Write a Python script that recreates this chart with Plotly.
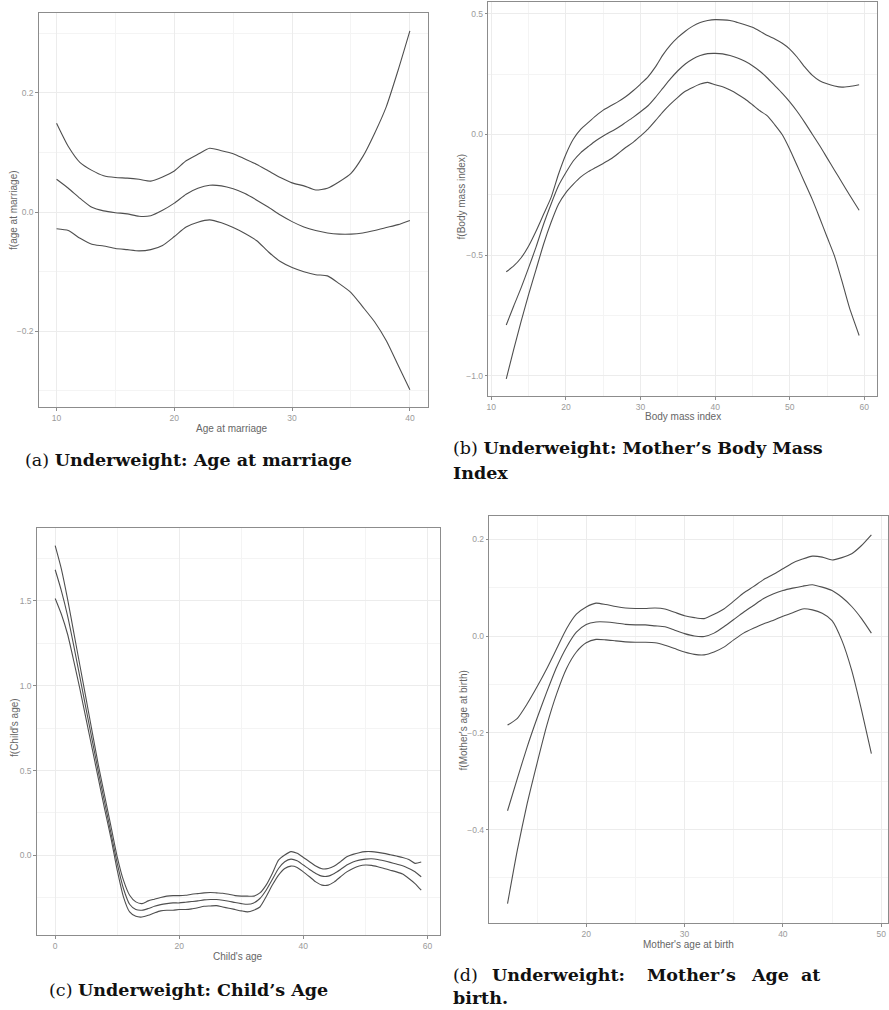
import plotly.graph_objects as go

W, H = 889, 1010

# ---------------- data ----------------
# (a) Age at marriage
a_x = list(range(10, 41))
a_up = [0.149, 0.110, 0.083, 0.070, 0.061, 0.058, 0.057, 0.055, 0.052, 0.059, 0.069,
        0.086, 0.097, 0.107, 0.103, 0.098, 0.089, 0.080, 0.069, 0.058, 0.049, 0.044,
        0.037, 0.040, 0.051, 0.065, 0.093, 0.132, 0.177, 0.238, 0.304]
a_mid = [0.055, 0.040, 0.023, 0.008, 0.002, -0.001, -0.003, -0.007, -0.006, 0.003, 0.015,
         0.030, 0.040, 0.045, 0.044, 0.039, 0.031, 0.020, 0.008, -0.005, -0.016, -0.025,
         -0.031, -0.035, -0.037, -0.037, -0.035, -0.031, -0.026, -0.021, -0.014]
a_lo = [-0.028, -0.031, -0.044, -0.054, -0.057, -0.061, -0.063, -0.065, -0.063, -0.056, -0.041,
        -0.025, -0.017, -0.013, -0.018, -0.026, -0.036, -0.048, -0.067, -0.083, -0.093, -0.100,
        -0.105, -0.107, -0.120, -0.135, -0.159, -0.184, -0.216, -0.257, -0.298]

# (b) Body mass index
b_x = list(range(12, 59)) + [59.3]
b_up = [-0.569, -0.545, -0.511, -0.462, -0.400, -0.331, -0.262, -0.165, -0.082, -0.019, 0.022,
        0.050, 0.077, 0.101, 0.119, 0.136, 0.156, 0.181, 0.209, 0.239, 0.280, 0.330, 0.370,
        0.402, 0.428, 0.449, 0.464, 0.472, 0.476, 0.475, 0.472, 0.464, 0.455, 0.444, 0.428,
        0.410, 0.396, 0.378, 0.354, 0.320, 0.280, 0.246, 0.223, 0.210, 0.201, 0.196, 0.199, 0.206]
b_mid = [-0.790, -0.711, -0.635, -0.552, -0.466, -0.372, -0.289, -0.213, -0.158, -0.109, -0.075,
         -0.050, -0.026, -0.006, 0.011, 0.029, 0.050, 0.071, 0.094, 0.119, 0.154, 0.192, 0.230,
         0.264, 0.292, 0.313, 0.327, 0.335, 0.336, 0.334, 0.327, 0.317, 0.303, 0.285, 0.262,
         0.234, 0.202, 0.170, 0.135, 0.095, 0.050, 0.002, -0.046, -0.097, -0.148, -0.199, -0.250, -0.314]
b_lo = [-1.013, -0.891, -0.774, -0.663, -0.559, -0.455, -0.365, -0.289, -0.241, -0.206, -0.176,
        -0.154, -0.137, -0.120, -0.102, -0.079, -0.054, -0.033, -0.006, 0.022, 0.057, 0.094, 0.126,
        0.154, 0.179, 0.195, 0.209, 0.216, 0.206, 0.198, 0.184, 0.167, 0.147, 0.123, 0.098,
        0.077, 0.040, -0.001, -0.061, -0.130, -0.199, -0.268, -0.345, -0.425, -0.504, -0.608, -0.718, -0.833]

# (c) Child's age
c_x = list(range(0, 60))
c_up = [1.825, 1.687, 1.510, 1.313, 1.116, 0.919, 0.721, 0.524, 0.347, 0.170, -0.008, -0.146,
        -0.235, -0.274, -0.284, -0.268, -0.258, -0.248, -0.240, -0.237, -0.237, -0.235, -0.229,
        -0.225, -0.221, -0.219, -0.221, -0.223, -0.229, -0.237, -0.240, -0.240, -0.240, -0.221,
        -0.175, -0.106, -0.028, 0.002, 0.022, 0.012, -0.012, -0.037, -0.063, -0.079, -0.077,
        -0.063, -0.037, -0.008, 0.006, 0.016, 0.022, 0.022, 0.018, 0.012, 0.004, -0.004, -0.012,
        -0.024, -0.047, -0.039]
c_mid = [1.683, 1.559, 1.411, 1.234, 1.047, 0.859, 0.672, 0.485, 0.308, 0.130, -0.047, -0.195,
         -0.288, -0.319, -0.323, -0.313, -0.300, -0.290, -0.284, -0.280, -0.280, -0.276, -0.272,
         -0.268, -0.262, -0.260, -0.260, -0.264, -0.270, -0.278, -0.284, -0.288, -0.280, -0.254,
         -0.205, -0.142, -0.077, -0.037, -0.022, -0.032, -0.057, -0.083, -0.106, -0.122, -0.122,
         -0.106, -0.083, -0.057, -0.039, -0.028, -0.022, -0.020, -0.024, -0.032, -0.041, -0.051,
         -0.061, -0.077, -0.096, -0.126]
c_lo = [1.514, 1.421, 1.303, 1.145, 0.978, 0.800, 0.623, 0.445, 0.268, 0.101, -0.087, -0.244,
        -0.333, -0.359, -0.363, -0.353, -0.339, -0.327, -0.323, -0.323, -0.319, -0.319, -0.315,
        -0.308, -0.300, -0.298, -0.296, -0.304, -0.311, -0.319, -0.327, -0.333, -0.323, -0.304,
        -0.244, -0.175, -0.116, -0.077, -0.063, -0.071, -0.097, -0.126, -0.156, -0.175, -0.175,
        -0.156, -0.126, -0.097, -0.077, -0.063, -0.057, -0.059, -0.067, -0.077, -0.087, -0.097,
        -0.110, -0.136, -0.166, -0.205]

# (d) Mother's age at birth
d_x = list(range(12, 50))
d_up = [-0.184, -0.170, -0.140, -0.105, -0.067, -0.026, 0.015, 0.045, 0.060, 0.068, 0.065,
        0.061, 0.058, 0.057, 0.057, 0.058, 0.056, 0.049, 0.042, 0.038, 0.036, 0.045, 0.056,
        0.072, 0.089, 0.102, 0.116, 0.127, 0.139, 0.151, 0.159, 0.165, 0.163, 0.157, 0.162,
        0.170, 0.187, 0.209]
d_mid = [-0.361, -0.294, -0.229, -0.170, -0.115, -0.064, -0.023, 0.008, 0.024, 0.029, 0.029,
         0.027, 0.024, 0.023, 0.023, 0.021, 0.019, 0.012, 0.005, 0.000, -0.001, 0.006, 0.019,
         0.034, 0.049, 0.063, 0.077, 0.087, 0.094, 0.099, 0.103, 0.106, 0.101, 0.094, 0.080,
         0.061, 0.036, 0.006]
d_lo = [-0.553, -0.442, -0.346, -0.263, -0.184, -0.119, -0.067, -0.033, -0.014, -0.007, -0.008,
        -0.010, -0.012, -0.013, -0.013, -0.014, -0.019, -0.026, -0.033, -0.038, -0.039, -0.033,
        -0.023, -0.008, 0.006, 0.016, 0.025, 0.032, 0.041, 0.048, 0.056, 0.054, 0.047, 0.032,
        -0.009, -0.071, -0.153, -0.243]

panels = [
    dict(x=a_x, ys=[a_up, a_mid, a_lo], px=(37, 427), py=(13, 407),
         xr=[8.5, 41.5], yr=[-0.327, 0.334], xdt=10, xt0=10, ydt=0.2, yt0=0, ymin=0.1, xmin=5,
         xtitle="Age at marriage", ytitle="f(age at marriage)",
         xt_pos=(231, 429), yt_pos=(12, 210)),
    dict(x=b_x, ys=[b_up, b_mid, b_lo], px=(488, 878), py=(2, 396),
         xr=[9.6, 61.7], yr=[-1.084, 0.549], xdt=10, xt0=10, ydt=0.5, yt0=0, ymin=0.25, xmin=5,
         xtitle="Body mass index", ytitle="f(Body mass index)",
         xt_pos=(683, 417), yt_pos=(462, 196)),
    dict(x=c_x, ys=[c_up, c_mid, c_lo], px=(35, 439), py=(528, 935),
         xr=[-2.95, 61.95], yr=[-0.469, 1.929], xdt=20, xt0=0, ydt=0.5, yt0=0, ymin=0.25, xmin=10,
         xtitle="Child's age", ytitle="f(Child's age)",
         xt_pos=(237, 956), yt_pos=(12, 727)),
    dict(x=d_x, ys=[d_up, d_mid, d_lo], px=(489, 889), py=(516, 923),
         xr=[10.15, 50.69], yr=[-0.593, 0.248], xdt=10, xt0=10, ydt=0.2, yt0=0, ymin=0.1, xmin=5,
         xtitle="Mother's age at birth", ytitle="f(Mother's age at birth)",
         xt_pos=(689, 944), yt_pos=(463, 720)),
]

fig = go.Figure()
annotations = []
line_col = "#4f4f4f"
grid_col = "#ececec"
tick_font = dict(family="Liberation Sans, Arial, sans-serif", size=8.5, color="#9a9a9a")
title_font = dict(family="Liberation Sans, Arial, sans-serif", size=10, color="#666666")

for i, p in enumerate(panels, start=1):
    xa = "x" if i == 1 else f"x{i}"
    ya = "y" if i == 1 else f"y{i}"
    for ys in p["ys"]:
        fig.add_trace(go.Scatter(x=p["x"], y=ys, mode="lines", xaxis=xa, yaxis=ya,
                                 line=dict(color=line_col, width=1.1, shape="spline", smoothing=0.6),
                                 showlegend=False, hoverinfo="skip"))
    xk = "xaxis" if i == 1 else f"xaxis{i}"
    yk = "yaxis" if i == 1 else f"yaxis{i}"
    common = dict(showline=True, linecolor="#8c8c8c", linewidth=1.3, mirror=True,
                  showgrid=True, gridcolor=grid_col, gridwidth=1, zeroline=False,
                  ticks="outside", ticklen=2.5, tickwidth=1, tickcolor="#8c8c8c",
                  tickfont=tick_font, fixedrange=True)
    fig.layout[xk] = dict(common, domain=[p["px"][0] / W, min(1.0, p["px"][1] / W)], anchor=ya,
                          range=p["xr"], tick0=p["xt0"], dtick=p["xdt"],
                          minor=dict(dtick=p["xmin"], tick0=p["xt0"], showgrid=True,
                                     gridcolor="#f4f4f4", gridwidth=0.6))
    fig.layout[yk] = dict(common, domain=[1 - p["py"][1] / H, 1 - p["py"][0] / H], anchor=xa,
                          range=p["yr"], tick0=p["yt0"], dtick=p["ydt"], tickformat=".1f",
                          minor=dict(dtick=p["ymin"], tick0=p["yt0"], showgrid=True,
                                     gridcolor="#f4f4f4", gridwidth=0.6))
    annotations.append(dict(text=p["xtitle"], x=p["xt_pos"][0] / W, y=1 - p["xt_pos"][1] / H,
                            xref="paper", yref="paper", showarrow=False, font=title_font,
                            xanchor="center", yanchor="middle"))
    annotations.append(dict(text=p["ytitle"], x=p["yt_pos"][0] / W, y=1 - p["yt_pos"][1] / H,
                            xref="paper", yref="paper", showarrow=False, font=title_font,
                            textangle=-90, xanchor="center", yanchor="middle"))

cap_font = dict(family="DejaVu Serif, Liberation Serif, serif", size=17.5, color="#111111")
captions = [
    ("(a) <b>Underweight: Age at marriage</b>", 21, 460),
    ("(b) <b>Underweight: Mother’s Body Mass</b>", 451, 448),
    ("<b>Index</b>", 451, 473),
    ("(c) <b>Underweight: Child’s Age</b>", 45, 990),
    # justified first line of caption (d), word by word
    ("(d)", 451, 975),
    ("<b>Underweight:</b>", 490, 975),
    ("<b>Mother’s</b>", 645, 975),
    ("<b>Age</b>", 750, 975),
    ("<b>at</b>", 800, 975),
    ("<b>birth.</b>", 451, 998),
]
for txt, cx, cy in captions:
    annotations.append(dict(text=txt, x=cx / W, y=1 - cy / H, xref="paper", yref="paper",
                            showarrow=False, font=cap_font, xanchor="left", yanchor="middle"))

fig.update_layout(width=W, height=H, margin=dict(l=0, r=0, t=0, b=0),
                  paper_bgcolor="white", plot_bgcolor="white", annotations=annotations)

fig.write_html("out.html", config={"displayModeBar": False},
               post_script="document.body.style.margin='0';document.body.style.overflow='hidden';")
